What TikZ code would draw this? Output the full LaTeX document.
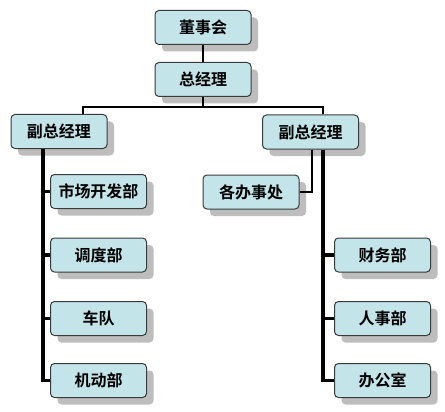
\documentclass[tikz,border=0pt]{standalone}
\usepackage{fontspec}
\newfontfamily\cjk{Noto Sans CJK SC}[BoldFont={Noto Sans CJK SC Bold}]
\usetikzlibrary{shadows}
\definecolor{boxfill}{HTML}{C3E4E8}
\definecolor{boxline}{HTML}{3A3A3A}
\definecolor{shade}{HTML}{BDBDBD}
\tikzset{
  x=1pt, y=-1pt,
  org/.style={draw=boxline, line width=1pt, fill=boxfill, rounded corners=4pt,
    minimum width=96pt, minimum height=34pt, inner sep=0pt,
    font=\cjk\bfseries\fontsize{16}{16}\selectfont,
    drop shadow={shadow xshift=7pt, shadow yshift=-7pt, fill=shade, opacity=1}},
  thin/.style={line width=2pt, black},
  thick/.style={line width=3.5pt, black},
}
\begin{document}
\begin{tikzpicture}
\useasboundingbox (0,0) rectangle (445,412);
\node[org] (dsh) at (203,27.5) {董事会};
\node[org] (zjl) at (203,79.5) {总经理};
\node[org] (fl) at (59,131.5) {副总经理};
\node[org] (fr) at (310.5,132) {副总经理};
\node[org] (scb) at (98.5,191.5) {市场开发部};
\node[org] (ddb) at (98.5,255) {调度部};
\node[org] (cd) at (98.5,318.5) {车队};
\node[org] (jdb) at (98.5,380.5) {机动部};
\node[org] (gbs) at (251,192) {各办事处};
\node[org] (cwb) at (382.5,255) {财务部};
\node[org] (rsb) at (382.5,318.5) {人事部};
\node[org] (bgs) at (382.5,380.5) {办公室};
\coordinate (hl) at (83,107);
\coordinate (hr) at (323,107);
\coordinate (bl) at (43,383);
\coordinate (br) at (323,383);
\draw[thin] (dsh.south) -- (zjl.north);
\draw[thin] (zjl.south) -- (zjl.south |- hl);
\draw[thin] (fl.north -| hl) -- (hl) -- (hr) -- (fr.north -| hr);
\draw[thick] (fl.south -| bl) -- (bl |- jdb.west) -- (jdb.west);
\draw[thick] (bl |- scb.west) -- (scb.west);
\draw[thick] (bl |- ddb.west) -- (ddb.west);
\draw[thick] (bl |- cd.west) -- (cd.west);
\draw[thick] (fr.south -| br) -- (br |- bgs.west) -- (bgs.west);
\draw[thick] (br |- cwb.west) -- (cwb.west);
\draw[thick] (br |- rsb.west) -- (rsb.west);
\coordinate (tk) at (312,192);
\draw[thin] (fr.south -| tk) -- (tk) -- (gbs.east);
\end{tikzpicture}
\end{document}
